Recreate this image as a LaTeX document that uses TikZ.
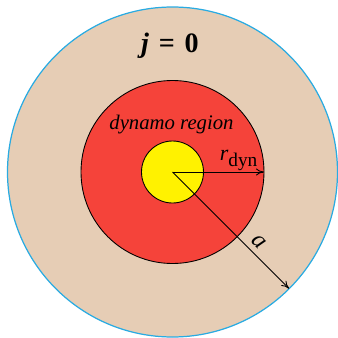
\documentclass[tikz,border=0pt]{standalone}
\usepackage{fontspec}
\setmainfont{Liberation Serif}
\usetikzlibrary{arrows.meta,calc,positioning}
\definecolor{CoreTan}{HTML}{E6CDB5}
\definecolor{CoreRed}{HTML}{F5433A}
\definecolor{CoreYellow}{HTML}{FFF200}
\definecolor{CoreBlue}{HTML}{29ABE2}
\tikzset{
  every node/.style={text=black},
  shell/.style={fill=CoreTan, draw=CoreBlue, line width=0.7pt},
  dynamo/.style={fill=CoreRed, draw=black, line width=0.5pt},
  inner/.style={fill=CoreYellow, draw=black, line width=0.5pt},
  radius arrow/.style={-{To[length=1.6mm,width=1.4mm]}, draw=black, line width=0.5pt},
}
\begin{document}
\begin{tikzpicture}[x=0.2mm, y=-0.2mm]
  \useasboundingbox (0,0) rectangle (338,338);
  % Nested spheres
  \coordinate (c) at (172.5,172);
  \draw[shell] (c) circle [radius=165];
  \draw[dynamo] (c) circle [radius=91.5];
  \draw[inner] (c) circle [radius=31];
  % Radii
  \coordinate (rdyn) at ($(c)+(91.5,0)$);
  \coordinate (aend) at ($(c)+(45:165)$);
  \draw[radius arrow] (c) -- (rdyn);
  \draw[radius arrow] (c) -- (aend)
    node[pos=0.67, sloped, above, font=\fontsize{14}{16}\selectfont\itshape] {a};
  % Labels
  \node[font=\fontsize{16}{18}\selectfont\bfseries] (jlab) at (170,46)
    {\textit{j}\hspace{0.35em}=\hspace{0.35em}0};
  \node[font=\fontsize{11.8}{14}\selectfont\itshape] (dlab) at (171.5,125)
    {dynamo region};
  \node[font=\fontsize{12.5}{14}\selectfont] (rlab) at (239,160)
    {\textit{r}\textsubscript{\fontsize{11}{12}\selectfont dyn}};
\end{tikzpicture}
\end{document}
